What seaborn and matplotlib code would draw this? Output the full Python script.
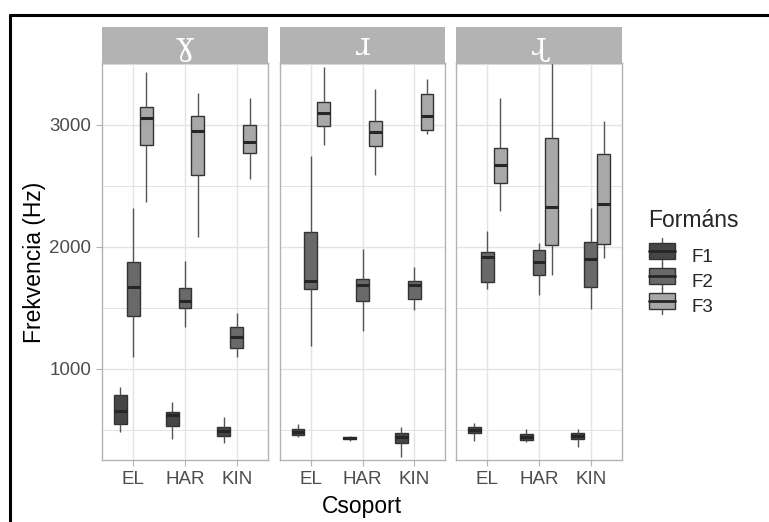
import numpy as np
import pandas as pd
import seaborn as sns
import matplotlib
matplotlib.use("Agg")
import matplotlib.pyplot as plt
from matplotlib.lines import Line2D
from matplotlib.patches import Rectangle
from matplotlib.legend_handler import HandlerBase
from matplotlib.ticker import MultipleLocator

# ---- data (five-number summaries: whisker low, Q1, median, Q3, whisker high) ----
facets = ["ɣ", "ɹ", "ɻ"]
groups = ["EL", "HAR", "KIN"]
formants = ["F1", "F2", "F3"]

gamma_F1 = [[486, 547, 659, 787, 855], [424, 536, 623, 645, 732], [391, 454, 495, 522, 609]]
gamma_F2 = [[1096, 1437, 1669, 1874, 2322], [1342, 1503, 1560, 1664, 1885], [1096, 1175, 1265, 1342, 1456]]
gamma_F3 = [[2372, 2836, 3060, 3150, 3437], [2079, 2590, 2951, 3077, 3260], [2555, 2773, 2863, 3000, 3219]]

r_F1 = [[440, 462, 486, 511, 549], [413, 424, 434, 445, 451], [276, 396, 443, 473, 522]]
r_F2 = [[1189, 1656, 1719, 2120, 2746], [1312, 1560, 1691, 1741, 1981], [1484, 1571, 1691, 1724, 1839]]
r_F3 = [[2836, 2989, 3101, 3189, 3478], [2590, 2828, 2940, 3030, 3295], [2924, 2962, 3071, 3257, 3380]]

rr_F1 = [[413, 473, 497, 522, 560], [399, 415, 443, 465, 505], [363, 424, 451, 476, 505]]
rr_F2 = [[1653, 1713, 1915, 1956, 2131], [1604, 1768, 1880, 1978, 2030], [1492, 1675, 1902, 2044, 2322]]
rr_F3 = [[2298, 2527, 2675, 2811, 3219], [1768, 2016, 2325, 2896, 3530], [1907, 2027, 2353, 2762, 3030]]

summaries = {
    "ɣ": {"F1": gamma_F1, "F2": gamma_F2, "F3": gamma_F3},
    "ɹ": {"F1": r_F1, "F2": r_F2, "F3": r_F3},
    "ɻ": {"F1": rr_F1, "F2": rr_F2, "F3": rr_F3},
}

rows = []
for fac in facets:
    for fm in formants:
        for gi, g in enumerate(groups):
            for v in summaries[fac][fm][gi]:
                rows.append({"hang": fac, "Csoport": g, "Formáns": fm, "Hz": v})
df = pd.DataFrame(rows)

# ---- style ----
fill_colors = {"F1": "#464646", "F2": "#696969", "F3": "#a8a8a8"}
line_col = "#333333"
grid_col = "#e3e3e3"
border_col = "#b3b3b3"
tick_text = "#4d4d4d"
FONT = ["Liberation Sans", "DejaVu Sans"]

sns.set_style("white")
plt.rcParams["font.family"] = FONT

W, H = 769, 522
fig = plt.figure(figsize=(W / 100, H / 100), dpi=100)

panel_x = [(102, 268), (280, 445), (456, 622)]
top_px, bot_px = 63, 460
strip_top = 27
ylim = (254, 3508)

axes = []
for i, fac in enumerate(facets):
    x0, x1 = panel_x[i]
    ax = fig.add_axes([x0 / W, 1 - bot_px / H, (x1 - x0) / W, (bot_px - top_px) / H])
    axes.append(ax)
    ax.set_axisbelow(True)
    sub = df[df["hang"] == fac]
    sns.boxplot(
        data=sub, x="Csoport", y="Hz", hue="Formáns",
        order=groups, hue_order=formants, palette=fill_colors,
        width=0.75, gap=0, whis=(0, 100), saturation=1,
        linecolor=line_col, linewidth=1.0,
        medianprops={"linewidth": 2.2, "color": "#262626"},
        whiskerprops={"color": "#555555", "linewidth": 1.0},
        capprops={"visible": False},
        showfliers=False, legend=(i == 0), ax=ax,
    )
    ax.set_ylim(*ylim)
    ax.set_xlim(-0.6, 2.6)
    ax.yaxis.set_major_locator(MultipleLocator(1000))
    ax.yaxis.set_minor_locator(MultipleLocator(500))
    ax.grid(True, which="major", color=grid_col, linewidth=1.0)
    ax.grid(True, which="minor", axis="y", color=grid_col, linewidth=0.7)
    for s in ax.spines.values():
        s.set_color(border_col)
        s.set_linewidth(1.0)
    ax.tick_params(axis="both", which="major", length=4.3, width=0.8,
                   color=border_col, labelcolor=tick_text, labelsize=13.5, pad=3.5,
                   bottom=True, left=(i == 0))
    ax.tick_params(axis="y", which="minor", length=0, left=False)
    ax.set_xlabel("")
    ax.set_ylabel("")
    if i > 0:
        ax.set_yticklabels([])
    # strip
    sax = fig.add_axes([x0 / W, 1 - top_px / H, (x1 - x0) / W, (top_px - strip_top) / H])
    sax.set_facecolor(border_col)
    sax.set_xticks([]); sax.set_yticks([])
    for s in sax.spines.values():
        s.set_visible(False)
    sax.text(0.5, 0.47, fac, ha="center", va="center", color="white",
             fontsize=22, family=["DejaVu Serif", "DejaVu Sans"], transform=sax.transAxes)

handles, labels = axes[0].get_legend_handles_labels()
if axes[0].get_legend() is not None:
    axes[0].get_legend().remove()


class BoxHandler(HandlerBase):
    def create_artists(self, legend, orig, xd, yd, w, h, fontsize, trans):
        fc = orig.get_facecolor()
        bw, bh = w * 0.95, h * 0.95
        bx, by = xd + (w - bw) / 2, yd + (h - bh) / 2
        wl = Line2D([bx + bw / 2] * 2, [by - h * 0.3, by + bh + h * 0.3], color="#555555", lw=1.0)
        r = Rectangle((bx, by), bw, bh, facecolor=fc, edgecolor=line_col, lw=1.0)
        m = Line2D([bx, bx + bw], [by + bh / 2] * 2, color="#262626", lw=2.0)
        for a in (wl, r, m):
            a.set_transform(trans)
        return [wl, r, m]


leg = fig.legend(handles, labels, title="Formáns", loc="upper left",
                 bbox_to_anchor=(639 / W, 1 - 200 / H), frameon=False,
                 fontsize=13.5, title_fontsize=16.5, handlelength=1.45, handleheight=1.0,
                 handletextpad=0.85, labelspacing=0.33, borderpad=0,
                 handler_map={type(handles[0]): BoxHandler()})
leg._legend_box.align = "left"
leg._legend_box.sep = 10.5

fig.text(35 / W, 1 - 262 / H, "Frekvencia (Hz)", rotation=90, ha="center", va="center",
         fontsize=16.5, color="black")
fig.text(362 / W, 1 - 507 / H, "Csoport", ha="center", va="center", fontsize=16.5, color="black")

# screenshot frame (left and top edges)
fig.add_artist(Line2D([10 / W, 10 / W], [0, 1 - 15 / H], color="black", lw=2.2, transform=fig.transFigure))
fig.add_artist(Line2D([10 / W, 1], [1 - 15 / H, 1 - 15 / H], color="black", lw=2.2, transform=fig.transFigure))

fig.savefig("out.png", dpi=100, facecolor="white")
